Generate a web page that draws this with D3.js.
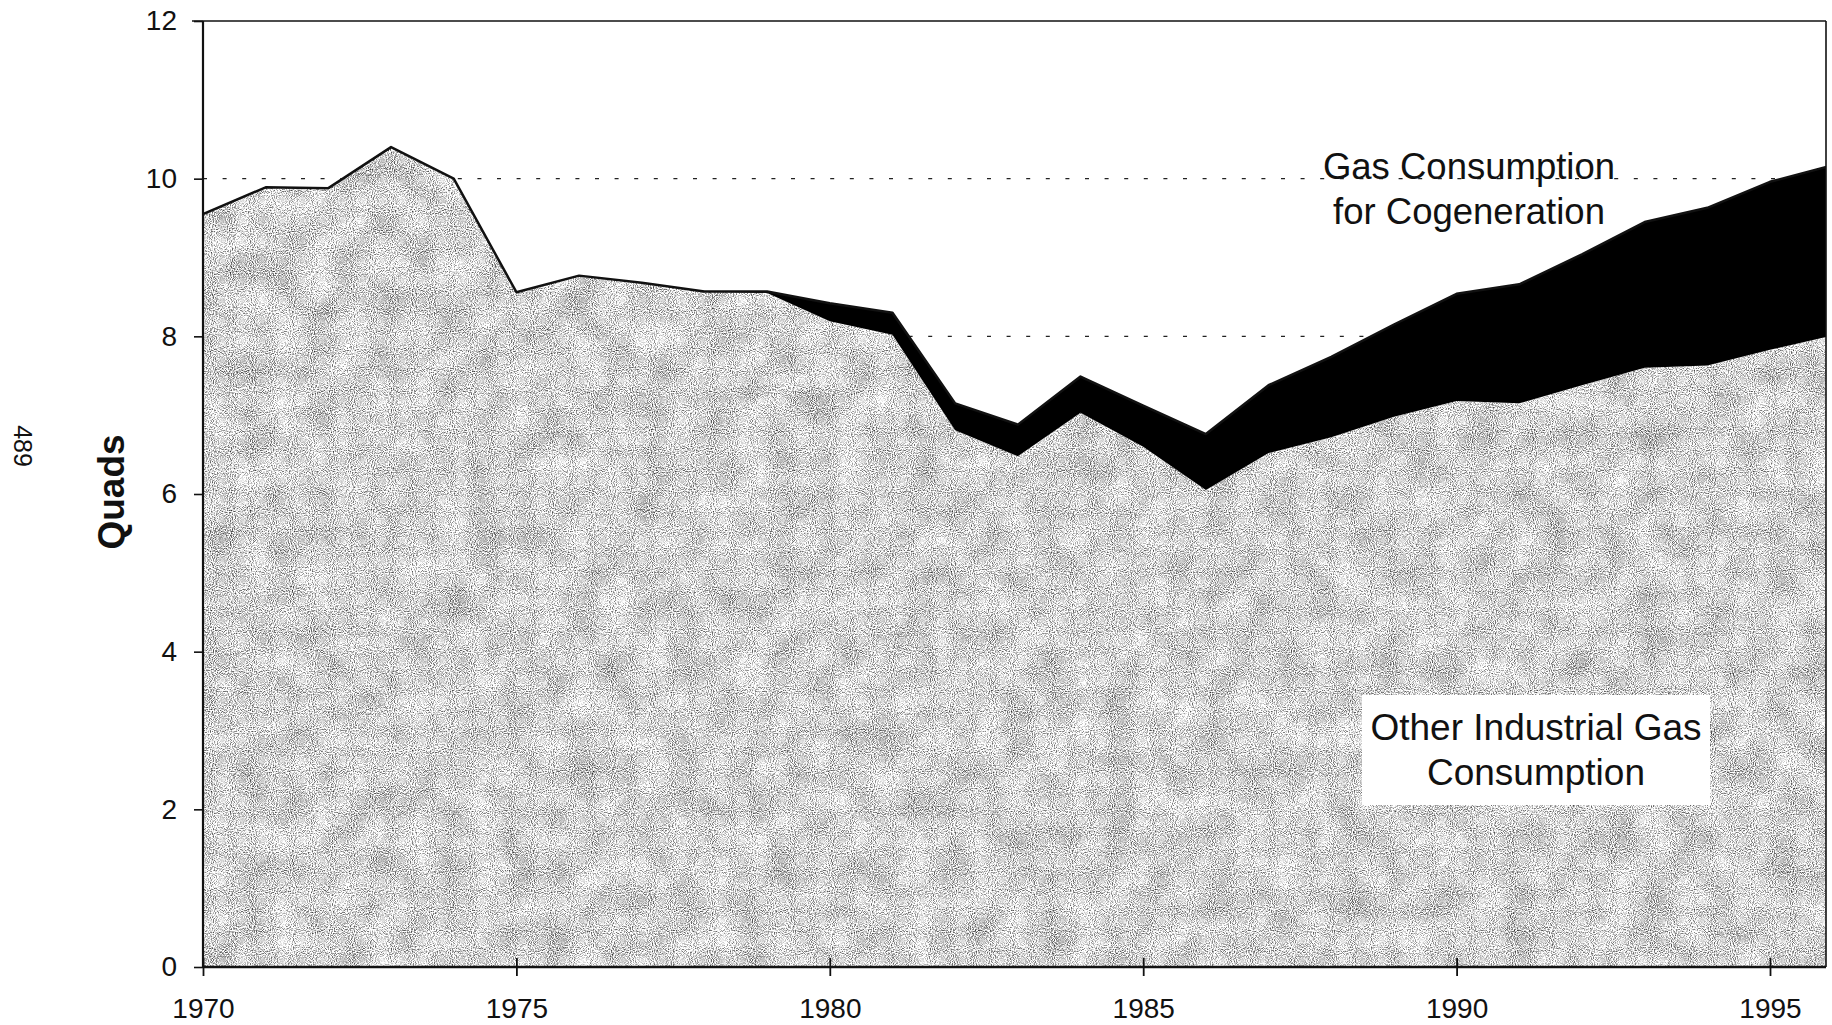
<!DOCTYPE html>
<html>
<head>
<meta charset="utf-8">
<script src="https://cdn.jsdelivr.net/npm/d3@7"></script>
<style>
  html, body { margin: 0; padding: 0; background: #fff; }
  svg { display: block; }
  text { font-family: "Liberation Sans", Arial, sans-serif; fill: #111; }
</style>
</head>
<body>
<svg id="chart" width="1832" height="1025"></svg>
<script>
// ---- Data (quads) ----
const years = [1970,1971,1972,1973,1974,1975,1976,1977,1978,1979,1980,1981,1982,1983,
               1984,1985,1986,1987,1988,1989,1990,1991,1992,1993,1994,1995,1996];
const otherIndustrial = [9.55,9.89,9.88,10.40,10.00,8.56,8.77,8.68,8.57,8.55,8.19,8.02,6.81,6.48,
                         7.03,6.60,6.05,6.52,6.72,6.98,7.18,7.15,7.38,7.60,7.63,7.83,8.01];
const cogeneration = [0,0,0,0,0,0,0,0,0,0.02,0.23,0.28,0.34,0.40,
                      0.46,0.52,0.71,0.86,1.02,1.17,1.36,1.51,1.66,1.85,2.00,2.13,2.16];
const xTickValues = [1970,1975,1980,1985,1990,1995];
const yTickValues = [0,2,4,6,8,10,12];
const yLabel = "Quads";
const pageNumber = "489";
const cogenLabel = ["Gas Consumption", "for Cogeneration"];
const otherLabel = ["Other Industrial Gas", "Consumption"];

// ---- Layout ----
const W = 1832, H = 1025;
const margin = {left: 203, right: 6, top: 21, bottom: 58};
const innerW = W - margin.left - margin.right;
const innerH = H - margin.top - margin.bottom;
const yearPitch = 62.68;

const svg = d3.select("#chart");
const g = svg.append("g").attr("transform", `translate(${margin.left},${margin.top})`);

const x = d3.scaleLinear().domain([1970, 1996]).range([0, 26 * yearPitch]);
const y = d3.scaleLinear().domain([0, 12]).range([innerH, 0]);

const table = years.map((yr, i) => ({year: yr, other: otherIndustrial[i], cogen: cogeneration[i]}));
const stack = d3.stack().keys(["other", "cogen"]);
const series = stack(table);

// defs: clip + grain filter
const defs = svg.append("defs");
defs.append("clipPath").attr("id", "plotClip")
  .append("rect").attr("x", 0).attr("y", -2).attr("width", innerW).attr("height", innerH + 2);

const f = defs.append("filter").attr("id", "grain")
  .attr("filterUnits", "userSpaceOnUse")
  .attr("x", 0).attr("y", 0).attr("width", W).attr("height", H)
  .attr("color-interpolation-filters", "sRGB");
f.append("feTurbulence").attr("type", "fractalNoise").attr("baseFrequency", 0.95)
  .attr("numOctaves", 1).attr("seed", 4).attr("result", "t1");
f.append("feColorMatrix").attr("in", "t1").attr("type", "matrix")
  .attr("values", "1 0 0 0 0  1 0 0 0 0  1 0 0 0 0  0 0 0 0 1").attr("result", "fine");
f.append("feTurbulence").attr("type", "fractalNoise").attr("baseFrequency", 0.03)
  .attr("numOctaves", 2).attr("seed", 9).attr("result", "t2");
f.append("feColorMatrix").attr("in", "t2").attr("type", "matrix")
  .attr("values", "1 0 0 0 0  1 0 0 0 0  1 0 0 0 0  0 0 0 0 1").attr("result", "coarse");
f.append("feComposite").attr("in", "fine").attr("in2", "coarse").attr("operator", "arithmetic")
  .attr("k1", 0).attr("k2", 1).attr("k3", 0.18).attr("k4", -0.09).attr("result", "mix");
const ct = f.append("feComponentTransfer").attr("in", "mix").attr("result", "gray");
["feFuncR", "feFuncG", "feFuncB"].forEach(fn =>
  ct.append(fn).attr("type", "linear").attr("slope", 1.9).attr("intercept", -0.11));
f.append("feComposite").attr("in", "gray").attr("in2", "SourceGraphic").attr("operator", "in");

// gridlines (dotted)
g.append("g").selectAll("line").data(yTickValues.filter(v => v > 0 && v < 12)).join("line")
  .attr("x1", 0).attr("x2", innerW)
  .attr("y1", d => y(d)).attr("y2", d => y(d))
  .attr("stroke", "#222").attr("stroke-width", 1.3)
  .attr("stroke-dasharray", "4,15.6");

// areas
const plot = g.append("g").attr("clip-path", "url(#plotClip)");
const area = d3.area().x(d => x(d.data.year)).y0(d => y(d[0])).y1(d => y(d[1]));
plot.append("path").datum(series[0]).attr("d", area)
  .attr("fill", "#bbb").attr("filter", "url(#grain)");
plot.append("path").datum(series[1]).attr("d", area)
  .attr("fill", "#000");
// outline of total
plot.append("path").datum(series[1])
  .attr("d", d3.line().x(d => x(d.data.year)).y(d => y(d[1])))
  .attr("fill", "none").attr("stroke", "#111").attr("stroke-width", 2.5)
  .attr("stroke-linejoin", "round");

// frame: top and right
g.append("line").attr("x1", -11).attr("x2", innerW).attr("y1", y(12)).attr("y2", y(12))
  .attr("stroke", "#111").attr("stroke-width", 1.6);
g.append("line").attr("x1", innerW).attr("x2", innerW).attr("y1", y(12)).attr("y2", innerH)
  .attr("stroke", "#111").attr("stroke-width", 1.6);

// axes
const yAxis = g.append("g").call(d3.axisLeft(y).tickValues(yTickValues).tickSize(9).tickPadding(17)
  .tickFormat(d3.format("d")));
yAxis.select(".domain").attr("stroke", "#111").attr("stroke-width", 2.2)
  .attr("d", `M0,${y(12)}V${innerH}`);
yAxis.selectAll(".tick line").attr("stroke", "#111").attr("stroke-width", 1.6);
yAxis.selectAll(".tick text").attr("font-size", 28).attr("fill", "#111")
  .style("font-family", '"Liberation Sans", Arial, sans-serif');

const xAxis = g.append("g").attr("transform", `translate(0,${innerH})`)
  .call(d3.axisBottom(x).tickValues(xTickValues).tickSize(9).tickPadding(22).tickFormat(d3.format("d")));
xAxis.select(".domain").attr("stroke", "#111").attr("stroke-width", 2.4)
  .attr("d", `M0,0H${innerW}`);
xAxis.selectAll(".tick line").attr("stroke", "#111").attr("stroke-width", 1.8).attr("y1", -9);
xAxis.selectAll(".tick text").attr("font-size", 28).attr("fill", "#111")
  .style("font-family", '"Liberation Sans", Arial, sans-serif');

// axis title
svg.append("text").attr("transform", "translate(124,492) rotate(-90)")
  .attr("text-anchor", "middle").attr("font-size", 37).attr("font-weight", "bold")
  .text(yLabel);

// page number (rotated)
svg.append("text").attr("transform", "translate(14,446) rotate(90)")
  .attr("text-anchor", "middle").attr("font-size", 25)
  .text(pageNumber);

// cogeneration label
const cl = svg.append("text").attr("text-anchor", "middle").attr("font-size", 36.5);
cl.selectAll("tspan").data(cogenLabel).join("tspan")
  .attr("x", 1469).attr("y", (d, i) => 179 + i * 45).text(d => d);

// other industrial label with white box
svg.append("rect").attr("x", 1362).attr("y", 695).attr("width", 348).attr("height", 110)
  .attr("fill", "#fff");
const ol = svg.append("text").attr("text-anchor", "middle").attr("font-size", 37);
ol.selectAll("tspan").data(otherLabel).join("tspan")
  .attr("x", 1536).attr("y", (d, i) => 740 + i * 45).text(d => d);
</script>
</body>
</html>
